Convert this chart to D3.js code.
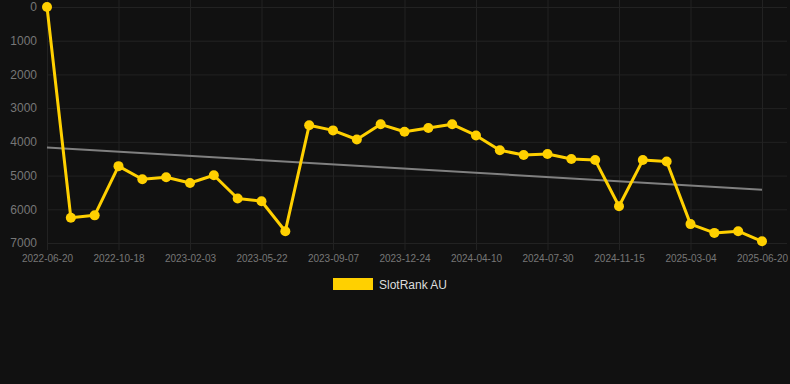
<!DOCTYPE html>
<html>
<head>
<meta charset="utf-8">
<script src="https://cdn.jsdelivr.net/npm/d3@7"></script>
<style>
  html, body { margin: 0; padding: 0; background: #111111; }
  svg { display: block; font-family: "Liberation Sans", Arial, sans-serif; }
</style>
</head>
<body>
<div id="chart"></div>
<script>
// Data
const dates = [
    "2022-06-20", "2022-07-30", "2022-09-08", "2022-10-18", "2022-11-23", "2022-12-29",
    "2023-02-03", "2023-03-11", "2023-04-16", "2023-05-22", "2023-06-27", "2023-08-02",
    "2023-09-07", "2023-10-13", "2023-11-18", "2023-12-24", "2024-01-29", "2024-03-05",
    "2024-04-10", "2024-05-17", "2024-06-23", "2024-07-30", "2024-09-04", "2024-10-10",
    "2024-11-15", "2024-12-21", "2025-01-27", "2025-03-04", "2025-04-09", "2025-05-15",
    "2025-06-20"
];
const ranks = [
    0, 6250, 6180, 4720, 5110, 5050,
    5220, 4990, 5680, 5760, 6650, 3510,
    3660, 3930, 3480, 3700, 3590, 3480,
    3810, 4250, 4390, 4360, 4510, 4540,
    5910, 4540, 4580, 6440, 6700, 6650,
    6950
];
const yTicks = [0, 1000, 2000, 3000, 4000, 5000, 6000, 7000];
const seriesName = "SlotRank AU";

const width = 790, height = 384;
const margin = { top: 7, right: 3, bottom: 141, left: 47 };

const svg = d3.select("#chart")
    .append("svg")
    .attr("width", width)
    .attr("height", height);

svg.append("rect")
    .attr("width", width)
    .attr("height", height)
    .attr("fill", "#111111");

// Scales
const x = d3.scalePoint()
    .domain(dates)
    .range([margin.left, 762]);

const y = d3.scaleLinear()
    .domain([0, 7000])
    .range([margin.top, height - margin.bottom]);

const tickDates = dates.filter((d, i) => i % 3 === 0);

// Grid
svg.append("g")
    .selectAll("line")
    .data(yTicks)
    .enter()
    .append("line")
    .attr("x1", margin.left)
    .attr("x2", width - margin.right)
    .attr("y1", d => y(d) + 0.5)
    .attr("y2", d => y(d) + 0.5)
    .attr("stroke", "#222222")
    .attr("stroke-width", 1);

svg.append("g")
    .selectAll("line")
    .data(tickDates)
    .enter()
    .append("line")
    .attr("x1", d => x(d) + 0.5)
    .attr("x2", d => x(d) + 0.5)
    .attr("y1", 0)
    .attr("y2", y(7000) + 7)
    .attr("stroke", "#222222")
    .attr("stroke-width", 1);

// Axes
const yAxis = svg.append("g")
    .attr("transform", `translate(${margin.left - 10},0)`)
    .call(d3.axisLeft(y).tickValues(yTicks).tickSize(0).tickFormat(d3.format("d")));
yAxis.select(".domain").remove();
yAxis.selectAll("text")
    .attr("x", 0)
    .attr("fill", "#777777")
    .style("font-size", "12px")
    .style("font-family", "'Liberation Sans', Arial, sans-serif");

const xAxis = svg.append("g")
    .attr("transform", `translate(0,${y(7000) + 12})`)
    .call(d3.axisBottom(x).tickValues(tickDates).tickSize(0));
xAxis.select(".domain").remove();
xAxis.selectAll("text")
    .attr("y", 0)
    .attr("dy", "0.71em")
    .attr("fill", "#777777")
    .style("font-size", "10px")
    .style("font-family", "'Liberation Sans', Arial, sans-serif");

// Trend line (least squares over the points)
const n = ranks.length;
const idx = d3.range(n);
const meanX = d3.mean(idx), meanY = d3.mean(ranks);
const slope = d3.sum(idx, i => (i - meanX) * (ranks[i] - meanY)) / d3.sum(idx, i => (i - meanX) ** 2);
const intercept = meanY - slope * meanX;

svg.append("line")
    .attr("x1", x(dates[0]))
    .attr("x2", x(dates[n - 1]))
    .attr("y1", y(intercept))
    .attr("y2", y(intercept + slope * (n - 1)))
    .attr("stroke", "#808080")
    .attr("stroke-width", 2);

// Series line
const line = d3.line()
    .x((d, i) => x(dates[i]))
    .y(d => y(d));

svg.append("path")
    .datum(ranks)
    .attr("d", line)
    .attr("fill", "none")
    .attr("stroke", "#ffd000")
    .attr("stroke-width", 3)
    .attr("stroke-linejoin", "round");

svg.append("g")
    .selectAll("circle")
    .data(ranks)
    .enter()
    .append("circle")
    .attr("cx", (d, i) => x(dates[i]))
    .attr("cy", d => y(d))
    .attr("r", 5)
    .attr("fill", "#ffd000");

// Legend
const legend = svg.append("g").attr("transform", "translate(333,278)");
legend.append("rect")
    .attr("width", 40)
    .attr("height", 12)
    .attr("fill", "#ffd000");
legend.append("text")
    .attr("x", 46)
    .attr("y", 10.5)
    .attr("fill", "#dddddd")
    .style("font-size", "12px")
    .text(seriesName);
</script>
</body>
</html>
